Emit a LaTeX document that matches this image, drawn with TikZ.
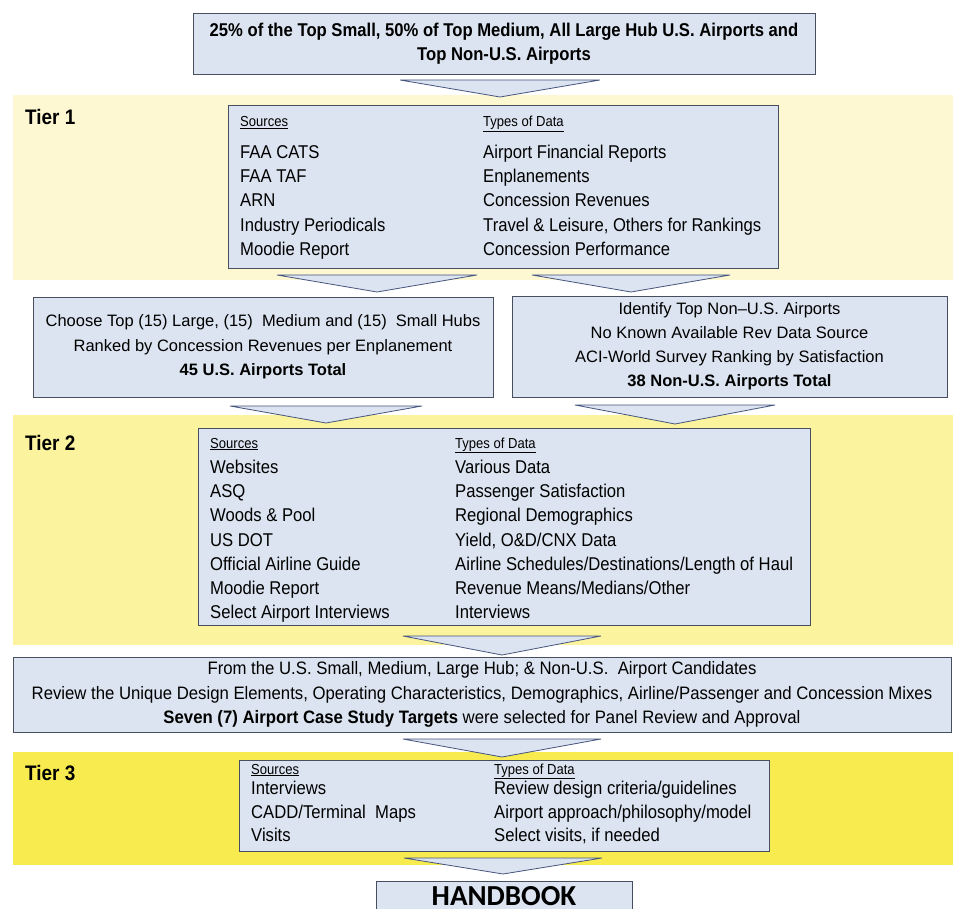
\documentclass[tikz,border=0pt]{standalone}
\usepackage{fontspec}
\setmainfont{Liberation Sans}
\newfontfamily\narrow[FakeStretch=0.90]{Liberation Sans}
\newfontfamily\narrowwide[FakeStretch=0.93]{Liberation Sans}
\newfontfamily\calib{Carlito}
\usetikzlibrary{calc}
\definecolor{boxfill}{RGB}{219,228,240}
\definecolor{boxline}{RGB}{70,78,95}
\definecolor{arrline}{RGB}{70,85,125}
\definecolor{tierA}{RGB}{253,248,210}
\definecolor{tierB}{RGB}{251,243,158}
\definecolor{tierC}{RGB}{248,235,80}
\newcommand\chevron[5]{\draw[chev] ({#1-#3},#2) -- ({#1+#3},#2) -- (#1,{#2+#4}) -- cycle; \coordinate (#5) at (#1,{#2+#4});}
\begin{document}
\begin{tikzpicture}[x=1pt,y=-1pt,
  box/.style={draw=boxline, fill=boxfill, line width=0.9pt, inner sep=0pt},
  chev/.style={draw=arrline, fill=boxfill, line width=0.8pt, line join=miter},
  txt/.style={anchor=base west, inner sep=0pt, font=\narrow\fontsize{18.5}{24}\selectfont},
  hdr/.style={anchor=base west, inner sep=0pt, font=\narrow\fontsize{14.5}{16}\selectfont},
  tier/.style={anchor=west, inner sep=0pt, font=\narrow\bfseries\fontsize{21}{24}\selectfont}]
\useasboundingbox (0,0) rectangle (953,909);
\clip (0,0) rectangle (953,909);
\fill[white] (0,0) rectangle (953,909);
% bands
\fill[tierA] (13,95) rectangle (953,280);
\fill[tierB] (13,415) rectangle (953,645);
\fill[tierC] (13,752) rectangle (953,865);
\node[tier] (tier1) at (25,117) {Tier 1};
\node[tier] (tier2) at (25,443) {Tier 2};
\node[tier] (tier3) at (25,773) {Tier 3};
% top box
\node[box, minimum width=622pt, minimum height=61pt, align=center,
  font=\narrow\bfseries\fontsize{18.5}{24}\selectfont] (top) at (504,43.5)
  {25\% of the Top Small, 50\% of Top Medium, All Large Hub U.S. Airports and\\Top Non-U.S. Airports};
\chevron{500}{80}{100}{17}{a1}
% tier 1 box
\node[box, minimum width=550pt, minimum height=163pt] (t1) at (503,186.5) {};
\node[hdr] (t1sh) at (240,127) {\underline{Sources}};
\node[hdr] (t1th) at (483,127) {\underline{Types of Data}};
\foreach \t [count=\i] in {FAA CATS, FAA TAF, ARN, Industry Periodicals, Moodie Report}
  \node[txt] (t1s\i) at (240,{158.5+24.2*(\i-1)}) {\t};
\foreach \t [count=\i] in {Airport Financial Reports, Enplanements, Concession Revenues, {Travel \& Leisure, Others for Rankings}, Concession Performance}
  \node[txt] (t1t\i) at (483,{158.5+24.2*(\i-1)}) {\t};
\chevron{377}{275}{100}{17}{a2}
\chevron{631}{275}{99}{17}{a3}
% middle boxes
\node[box, minimum width=460pt, minimum height=100pt, align=center,
  font=\fontsize{16.5}{24.5}\selectfont] (us) at (263,347)
  {Choose Top (15) Large, (15) \ Medium and (15) \ Small Hubs\\Ranked by Concession Revenues per Enplanement\\\textbf{45 U.S. Airports Total}};
\node[box, minimum width=435pt, minimum height=101pt, align=center,
  font=\fontsize{16.5}{24}\selectfont] (nonus) at (729.5,346.5)
  {Identify Top Non--U.S. Airports\\No Known Available Rev Data Source\\ACI-World Survey Ranking by Satisfaction\\\textbf{38 Non-U.S. Airports Total}};
\chevron{326}{406}{96}{17}{a4}
\chevron{675}{405}{100}{19}{a5}
% tier 2 box
\node[box, minimum width=612pt, minimum height=197pt] (t2) at (504,526.5) {};
\node[hdr] (t2sh) at (210,448) {\underline{Sources}};
\node[hdr] (t2th) at (455,448) {\underline{Types of Data}};
\foreach \t [count=\i] in {Websites, ASQ, Woods \& Pool, US DOT, Official Airline Guide, Moodie Report, Select Airport Interviews}
  \node[txt] (t2s\i) at (210,{473.5+24.2*(\i-1)}) {\t};
\foreach \t [count=\i] in {Various Data, Passenger Satisfaction, Regional Demographics, {Yield, O\&D/CNX Data}, Airline Schedules/Destinations/Length of Haul, Revenue Means/Medians/Other, Interviews}
  \node[txt] (t2t\i) at (455,{473.5+24.2*(\i-1)}) {\t};
\chevron{502}{636}{99}{19}{a6}
% big box
\node[box, minimum width=938pt, minimum height=75pt, align=center,
  font=\narrowwide\fontsize{18}{24.5}\selectfont] (cand) at (482,694.5)
  {From the U.S. Small, Medium, Large Hub; \& Non-U.S. \ Airport Candidates\\
   Review the Unique Design Elements, Operating Characteristics, Demographics, Airline/Passenger and Concession Mixes\\
   \textbf{Seven (7) Airport Case Study Targets} were selected for Panel Review and Approval};
\chevron{502}{739}{99}{18}{a7}
% tier 3 box
\node[box, minimum width=530pt, minimum height=91pt] (t3) at (504,805.5) {};
\node[hdr] (t3sh) at (251,774) {\underline{Sources}};
\node[hdr] (t3th) at (494,774) {\underline{Types of Data}};
\foreach \t [count=\i] in {Interviews, CADD/Terminal \ Maps, Visits}
  \node[txt] (t3s\i) at (251,{794.5+23.5*(\i-1)}) {\t};
\foreach \t [count=\i] in {Review design criteria/guidelines, Airport approach/philosophy/model, {Select visits, if needed}}
  \node[txt] (t3t\i) at (494,{794.5+23.5*(\i-1)}) {\t};
\chevron{503}{858}{99}{16}{a8}
% handbook
\draw[box] (376,881) rectangle (632,925);
\node[anchor=base, inner sep=0pt, text depth=0pt, font=\calib\bfseries\fontsize{29}{30}\selectfont] (hb) at (504,905) {HANDBOOK};
\end{tikzpicture}
\end{document}
